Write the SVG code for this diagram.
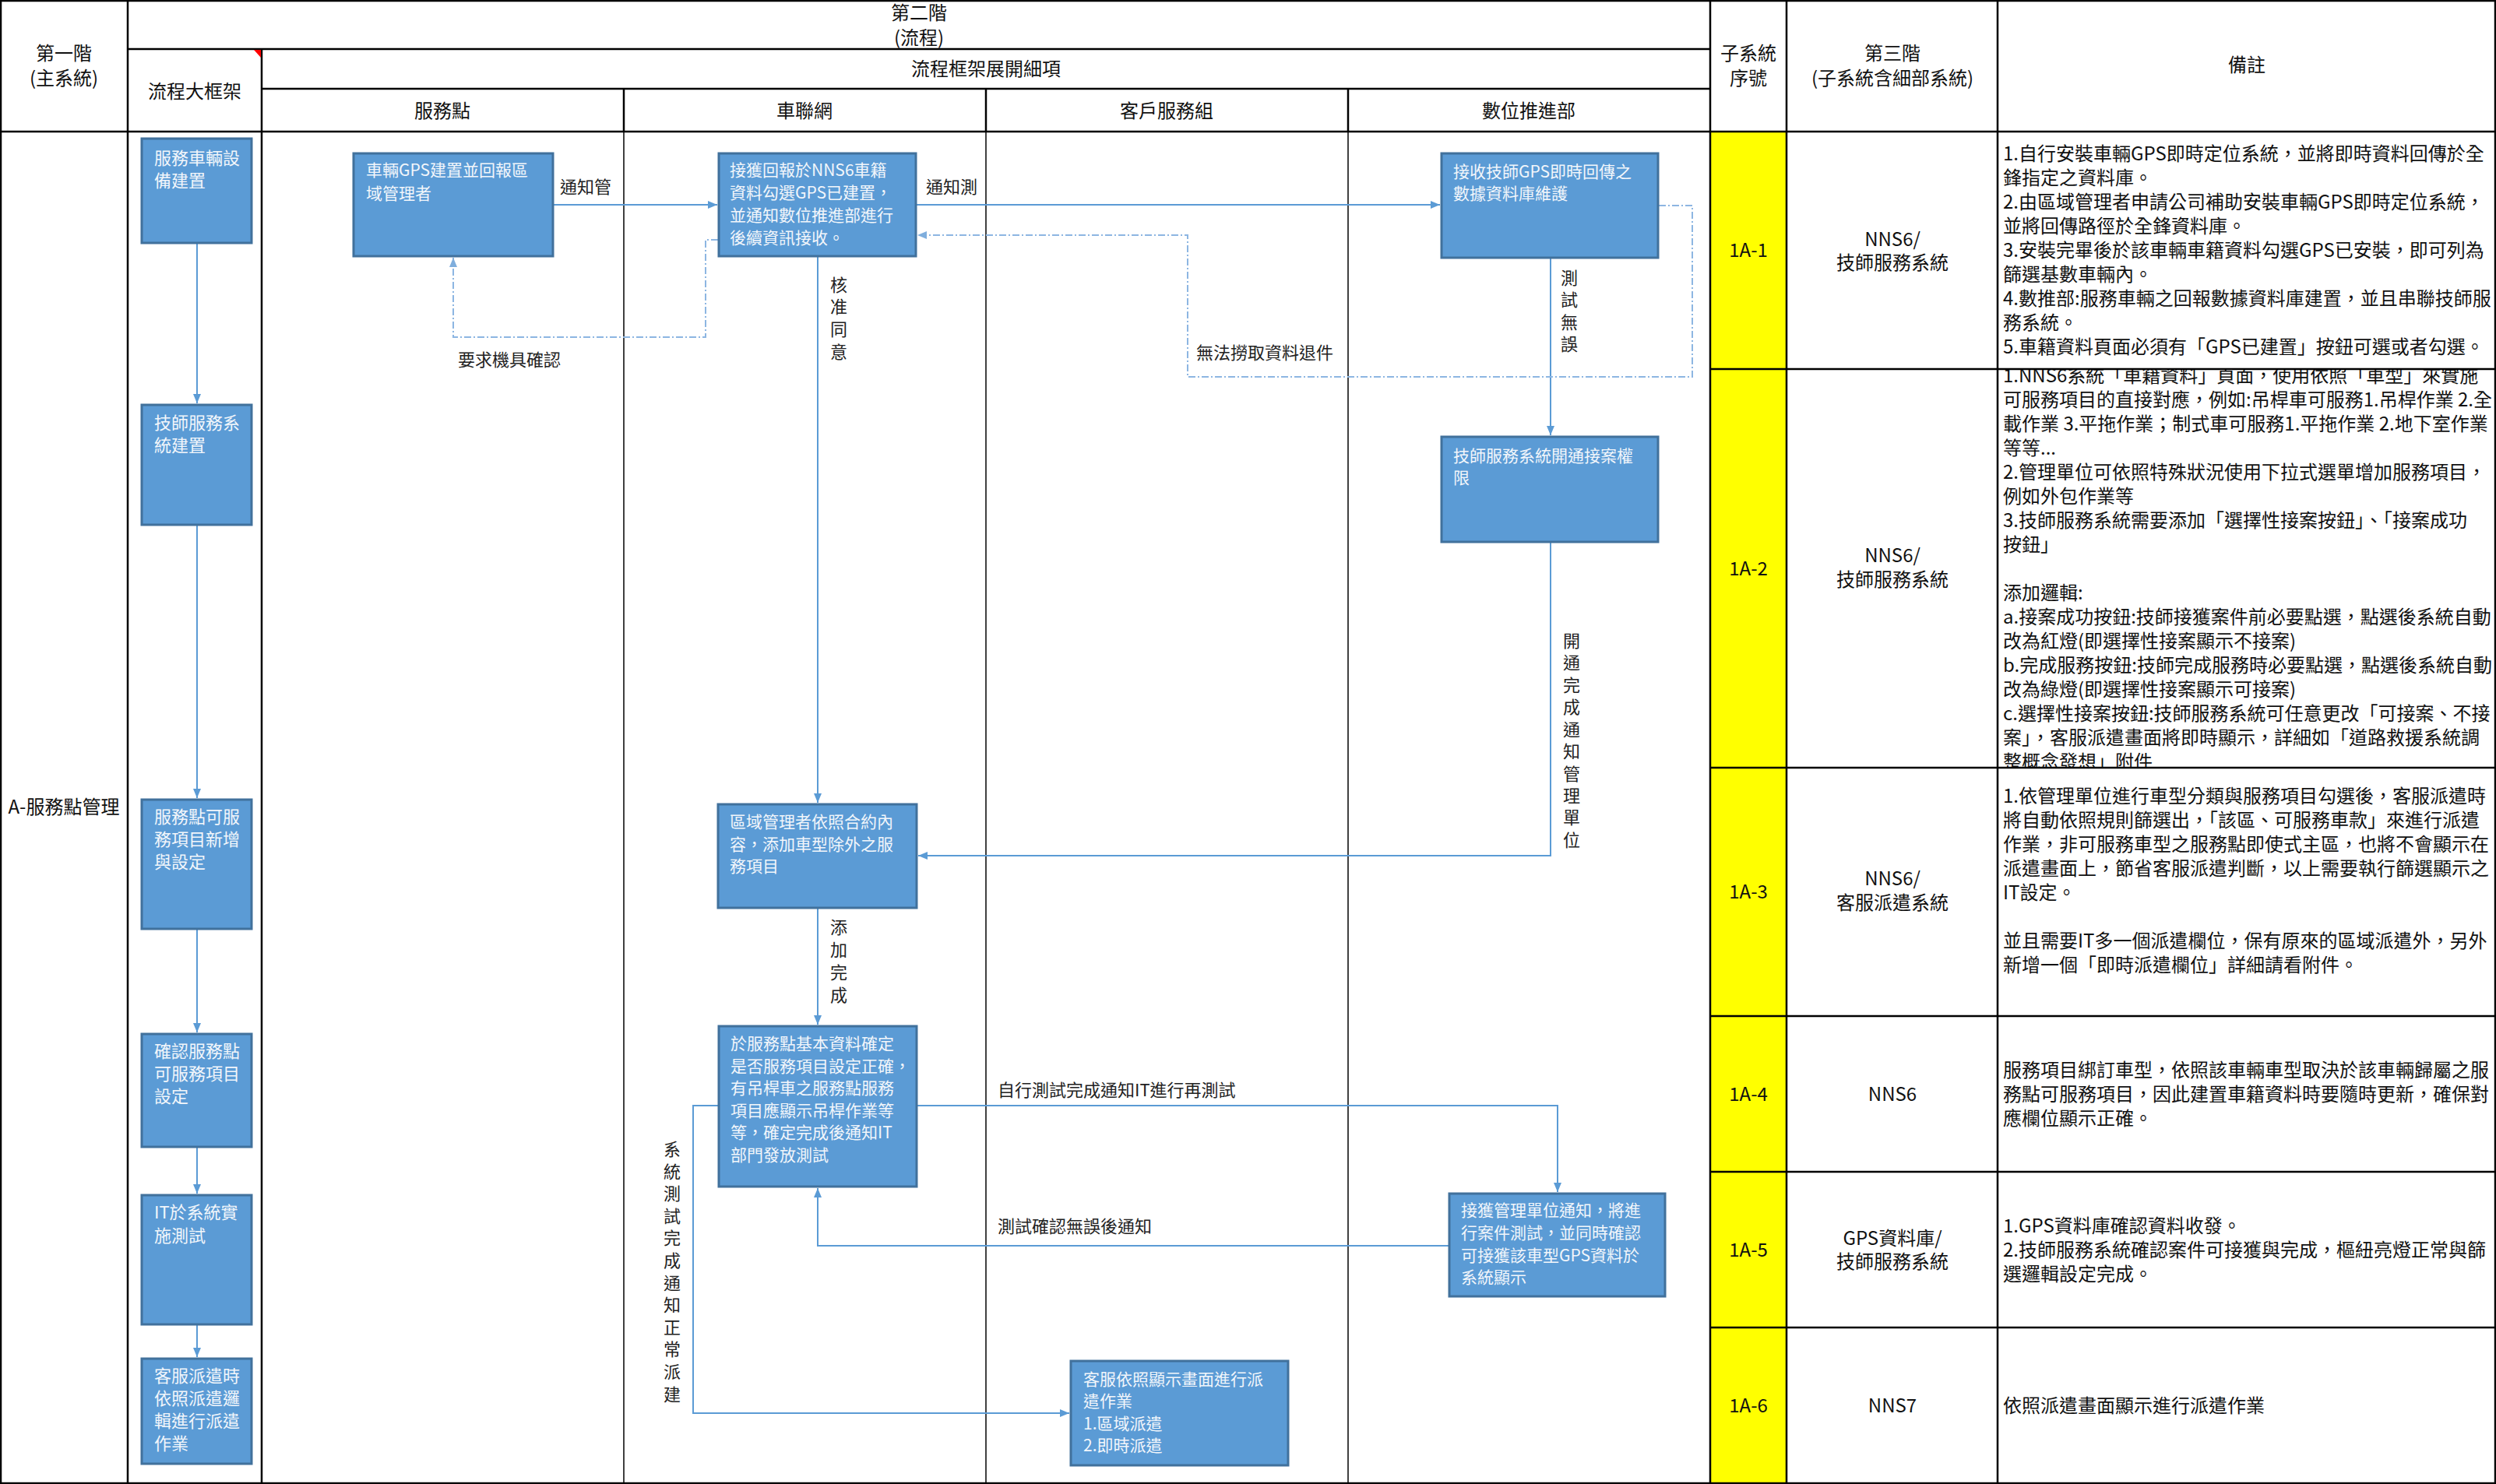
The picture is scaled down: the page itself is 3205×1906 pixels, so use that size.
<svg xmlns="http://www.w3.org/2000/svg" width="3205" height="1906" viewBox="0 0 3205 1906">
<defs>
<style>
.hd{font-family:"Noto Sans CJK TC","Noto Sans CJK SC",sans-serif;font-size:24px;fill:#111;text-anchor:middle}
.nt{font-family:"Noto Sans CJK TC","Noto Sans CJK SC",sans-serif;font-size:24px;fill:#111}
.nd rect{fill:#5B9BD5;stroke:#41719C;stroke-width:3}
.tx{font-family:"Noto Sans CJK TC","Noto Sans CJK SC",sans-serif;font-size:21px;fill:#F2F6FB}
.txl{font-family:"Noto Sans CJK TC","Noto Sans CJK SC",sans-serif;font-size:22px;fill:#F2F6FB}
.lb{font-family:"Noto Sans CJK TC","Noto Sans CJK SC",sans-serif;font-size:22px;fill:#222}
.lbv{font-family:"Noto Sans CJK TC","Noto Sans CJK SC",sans-serif;font-size:22px;fill:#222;text-anchor:middle}
.c{fill:none;stroke:#5B9BD5;stroke-width:2}
.d{fill:none;stroke:#8DB6E2;stroke-width:2;stroke-dasharray:9 3 2 3}
.g1{stroke:#000;stroke-width:2.5;fill:none}
.g2{stroke:#000;stroke-width:1.5;fill:none}
</style>
<marker id="ah" viewBox="0 0 12 10" refX="12" refY="5" markerWidth="12" markerHeight="10" markerUnits="userSpaceOnUse" orient="auto"><path d="M0,0 L12,5 L0,10 z" fill="#5B9BD5"/></marker>
<marker id="ahd" viewBox="0 0 12 10" refX="12" refY="5" markerWidth="12" markerHeight="10" markerUnits="userSpaceOnUse" orient="auto"><path d="M0,0 L12,5 L0,10 z" fill="#7FAEDD"/></marker>
<clipPath id="clip2"><rect x="2567" y="475" width="637" height="510"/></clipPath>
</defs>
<rect x="0" y="0" width="3205" height="1906" fill="#FFFFFF"/>
<!-- yellow column -->
<rect x="2196" y="169" width="98" height="1737" fill="#FFFF00"/>
<!-- grid -->
<g id="grid">
<rect x="1" y="1" width="3203" height="1904" class="g1"/>
<line x1="164" y1="63" x2="2196" y2="63" class="g1"/>
<line x1="336" y1="114" x2="2196" y2="114" class="g1"/>
<line x1="0" y1="169" x2="3205" y2="169" class="g1"/>
<line x1="164" y1="0" x2="164" y2="1906" class="g1"/>
<line x1="336" y1="63" x2="336" y2="1906" class="g1"/>
<line x1="801" y1="114" x2="801" y2="169" class="g1"/>
<line x1="1266" y1="114" x2="1266" y2="169" class="g1"/>
<line x1="1731" y1="114" x2="1731" y2="169" class="g1"/>
<line x1="801" y1="169" x2="801" y2="1906" class="g2"/>
<line x1="1266" y1="169" x2="1266" y2="1906" class="g2"/>
<line x1="1731" y1="169" x2="1731" y2="1906" class="g2"/>
<line x1="2196" y1="0" x2="2196" y2="1906" class="g1"/>
<line x1="2294" y1="0" x2="2294" y2="1906" class="g1"/>
<line x1="2565" y1="0" x2="2565" y2="1906" class="g1"/>
<line x1="2196" y1="474" x2="3205" y2="474" class="g1"/>
<line x1="2196" y1="986" x2="3205" y2="986" class="g1"/>
<line x1="2196" y1="1305" x2="3205" y2="1305" class="g1"/>
<line x1="2196" y1="1505" x2="3205" y2="1505" class="g1"/>
<line x1="2196" y1="1705" x2="3205" y2="1705" class="g1"/>
<polygon points="326,64 335,64 335,74" fill="#FF0000"/>
</g>
<!-- header texts -->
<g id="header">
<text class="hd" x="1180" y="25">第二階</text>
<text class="hd" x="1180" y="57">(流程)</text>
<text class="hd" x="82" y="77">第一階</text>
<text class="hd" x="82" y="109">(主系統)</text>
<text class="hd" x="250" y="126">流程大框架</text>
<text class="hd" x="1266" y="97">流程框架展開細項</text>
<text class="hd" x="568" y="151">服務點</text>
<text class="hd" x="1033" y="151">車聯網</text>
<text class="hd" x="1498" y="151">客戶服務組</text>
<text class="hd" x="1963" y="151">數位推進部</text>
<text class="hd" x="2245" y="77">子系統</text>
<text class="hd" x="2245" y="109">序號</text>
<text class="hd" x="2430" y="77">第三階</text>
<text class="hd" x="2430" y="109">(子系統含細部系統)</text>
<text class="hd" x="2885" y="92">備註</text>
<text class="hd" x="82" y="1045">A-服務點管理</text>
</g>
<!-- right table -->
<g id="subsys">
<text class="hd" x="2245" y="330">1A-1</text>
<text class="hd" x="2245" y="739">1A-2</text>
<text class="hd" x="2245" y="1154">1A-3</text>
<text class="hd" x="2245" y="1414">1A-4</text>
<text class="hd" x="2245" y="1614">1A-5</text>
<text class="hd" x="2245" y="1814">1A-6</text>
<text class="hd" x="2430" y="316">NNS6/</text>
<text class="hd" x="2430" y="346">技師服務系統</text>
<text class="hd" x="2430" y="722">NNS6/</text>
<text class="hd" x="2430" y="753">技師服務系統</text>
<text class="hd" x="2430" y="1137">NNS6/</text>
<text class="hd" x="2430" y="1168">客服派遣系統</text>
<text class="hd" x="2430" y="1414">NNS6</text>
<text class="hd" x="2430" y="1599">GPS資料庫/</text>
<text class="hd" x="2430" y="1629">技師服務系統</text>
<text class="hd" x="2430" y="1814">NNS7</text>
</g>
<g id="notes">
<text class="nt" x="2572" y="206">1.自行安裝車輛GPS即時定位系統，並將即時資料回傳於全</text>
<text class="nt" x="2572" y="237">鋒指定之資料庫。</text>
<text class="nt" x="2572" y="268">2.由區域管理者申請公司補助安裝車輛GPS即時定位系統，</text>
<text class="nt" x="2572" y="299">並將回傳路徑於全鋒資料庫。</text>
<text class="nt" x="2572" y="330">3.安裝完畢後於該車輛車籍資料勾選GPS已安裝，即可列為</text>
<text class="nt" x="2572" y="361">篩選基數車輛內。</text>
<text class="nt" x="2572" y="392">4.數推部:服務車輛之回報數據資料庫建置，並且串聯技師服</text>
<text class="nt" x="2572" y="423">務系統。</text>
<text class="nt" x="2572" y="454">5.車籍資料頁面必須有「GPS已建置」按鈕可選或者勾選。</text>
<g clip-path="url(#clip2)">
<text class="nt" x="2572" y="491">1.NNS6系統「車籍資料」頁面，使用依照「車型」來實施</text>
<text class="nt" x="2572" y="522">可服務項目的直接對應，例如:吊桿車可服務1.吊桿作業 2.全</text>
<text class="nt" x="2572" y="553">載作業 3.平拖作業；制式車可服務1.平拖作業 2.地下室作業</text>
<text class="nt" x="2572" y="584">等等...</text>
<text class="nt" x="2572" y="615">2.管理單位可依照特殊狀況使用下拉式選單增加服務項目，</text>
<text class="nt" x="2572" y="646">例如外包作業等</text>
<text class="nt" x="2572" y="677">3.技師服務系統需要添加「選擇性接案按鈕」、「接案成功</text>
<text class="nt" x="2572" y="708">按鈕」</text>
<text class="nt" x="2572" y="770">添加邏輯:</text>
<text class="nt" x="2572" y="801">a.接案成功按鈕:技師接獲案件前必要點選，點選後系統自動</text>
<text class="nt" x="2572" y="832">改為紅燈(即選擇性接案顯示不接案)</text>
<text class="nt" x="2572" y="863">b.完成服務按鈕:技師完成服務時必要點選，點選後系統自動</text>
<text class="nt" x="2572" y="894">改為綠燈(即選擇性接案顯示可接案)</text>
<text class="nt" x="2572" y="925">c.選擇性接案按鈕:技師服務系統可任意更改「可接案、不接</text>
<text class="nt" x="2572" y="956">案」，客服派遣畫面將即時顯示，詳細如「道路救援系統調</text>
<text class="nt" x="2572" y="987">整概念發想」附件</text>
</g>
<text class="nt" x="2572" y="1031">1.依管理單位進行車型分類與服務項目勾選後，客服派遣時</text>
<text class="nt" x="2572" y="1062">將自動依照規則篩選出，「該區、可服務車款」來進行派遣</text>
<text class="nt" x="2572" y="1093">作業，非可服務車型之服務點即使式主區，也將不會顯示在</text>
<text class="nt" x="2572" y="1124">派遣畫面上，節省客服派遣判斷，以上需要執行篩選顯示之</text>
<text class="nt" x="2572" y="1155">IT設定。</text>
<text class="nt" x="2572" y="1217">並且需要IT多一個派遣欄位，保有原來的區域派遣外，另外</text>
<text class="nt" x="2572" y="1248">新增一個「即時派遣欄位」詳細請看附件。</text>
<text class="nt" x="2572" y="1383">服務項目綁訂車型，依照該車輛車型取決於該車輛歸屬之服</text>
<text class="nt" x="2572" y="1414">務點可服務項目，因此建置車籍資料時要隨時更新，確保對</text>
<text class="nt" x="2572" y="1445">應欄位顯示正確。</text>
<text class="nt" x="2572" y="1583">1.GPS資料庫確認資料收發。</text>
<text class="nt" x="2572" y="1614">2.技師服務系統確認案件可接獲與完成，樞紐亮燈正常與篩</text>
<text class="nt" x="2572" y="1645">選邏輯設定完成。</text>
<text class="nt" x="2572" y="1814">依照派遣畫面顯示進行派遣作業</text>
</g>
<!-- connectors -->
<g id="connectors">
<path class="c" d="M253,313 V518" marker-end="url(#ah)"/>
<path class="c" d="M253,675 V1025" marker-end="url(#ah)"/>
<path class="c" d="M253,1194 V1326" marker-end="url(#ah)"/>
<path class="c" d="M253,1474 V1533" marker-end="url(#ah)"/>
<path class="c" d="M253,1702 V1743" marker-end="url(#ah)"/>
<path class="c" d="M711,263 H921" marker-end="url(#ah)"/>
<path class="c" d="M1177,263 H1849" marker-end="url(#ah)"/>
<path class="c" d="M1050,330 V1031" marker-end="url(#ah)"/>
<path class="c" d="M1991,332 V559" marker-end="url(#ah)"/>
<path class="c" d="M1991,697 V1099 H1179" marker-end="url(#ah)"/>
<path class="c" d="M1050,1167 V1316" marker-end="url(#ah)"/>
<path class="c" d="M1178,1420 H2000 V1531" marker-end="url(#ah)"/>
<path class="c" d="M1860,1600 H1050 V1526" marker-end="url(#ah)"/>
<path class="c" d="M922,1420 H890 V1815 H1373" marker-end="url(#ah)"/>
<path class="d" d="M922,308 H906 V433 H582 V331" marker-end="url(#ahd)"/>
<path class="d" d="M2130,264 H2173 V484 H1525 V302 H1178" marker-end="url(#ahd)"/>
<text class="lb" x="719" y="248">通知管</text>
<text class="lb" x="1189" y="248">通知測</text>
<text class="lb" x="654" y="470" text-anchor="middle">要求機具確認</text>
<text class="lb" x="1536" y="461">無法撈取資料退件</text>
<text class="lb" x="1281" y="1408">自行測試完成通知IT進行再測試</text>
<text class="lb" x="1281" y="1583">測試確認無誤後通知</text>
<text class="lbv"><tspan x="1077" y="374">核</tspan><tspan x="1077" y="402">准</tspan><tspan x="1077" y="431">同</tspan><tspan x="1077" y="460">意</tspan></text>
<text class="lbv"><tspan x="2015" y="365">測</tspan><tspan x="2015" y="393">試</tspan><tspan x="2015" y="422">無</tspan><tspan x="2015" y="450">誤</tspan></text>
<text class="lbv"><tspan x="2018" y="831">開</tspan><tspan x="2018" y="859">通</tspan><tspan x="2018" y="888">完</tspan><tspan x="2018" y="916">成</tspan><tspan x="2018" y="945">通</tspan><tspan x="2018" y="973">知</tspan><tspan x="2018" y="1002">管</tspan><tspan x="2018" y="1030">理</tspan><tspan x="2018" y="1058">單</tspan><tspan x="2018" y="1087">位</tspan></text>
<text class="lbv"><tspan x="1077" y="1199">添</tspan><tspan x="1077" y="1228">加</tspan><tspan x="1077" y="1257">完</tspan><tspan x="1077" y="1286">成</tspan></text>
<text class="lbv"><tspan x="863" y="1484">系</tspan><tspan x="863" y="1513">統</tspan><tspan x="863" y="1541">測</tspan><tspan x="863" y="1570">試</tspan><tspan x="863" y="1598">完</tspan><tspan x="863" y="1627">成</tspan><tspan x="863" y="1656">通</tspan><tspan x="863" y="1684">知</tspan><tspan x="863" y="1713">正</tspan><tspan x="863" y="1741">常</tspan><tspan x="863" y="1770">派</tspan><tspan x="863" y="1799">建</tspan></text>
</g>
<!-- left column nodes -->
<g id="n1" class="nd"><rect x="182" y="178" width="141" height="134"/><text class="txl"><tspan x="198" y="211">服務車輛設</tspan><tspan x="198" y="240">備建置</tspan></text></g>
<g id="n2" class="nd"><rect x="182" y="520" width="141" height="154"/><text class="txl"><tspan x="198" y="551">技師服務系</tspan><tspan x="198" y="580">統建置</tspan></text></g>
<g id="n3" class="nd"><rect x="182" y="1027" width="141" height="166"/><text class="txl"><tspan x="198" y="1057">服務點可服</tspan><tspan x="198" y="1086">務項目新增</tspan><tspan x="198" y="1115">與設定</tspan></text></g>
<g id="n4" class="nd"><rect x="182" y="1328" width="141" height="145"/><text class="txl"><tspan x="198" y="1358">確認服務點</tspan><tspan x="198" y="1387">可服務項目</tspan><tspan x="198" y="1416">設定</tspan></text></g>
<g id="n5" class="nd"><rect x="182" y="1535" width="141" height="166"/><text class="txl"><tspan x="198" y="1565">IT於系統實</tspan><tspan x="198" y="1595">施測試</tspan></text></g>
<g id="n6" class="nd"><rect x="182" y="1745" width="141" height="135"/><text class="txl"><tspan x="198" y="1775">客服派遣時</tspan><tspan x="198" y="1804">依照派遣邏</tspan><tspan x="198" y="1833">輯進行派遣</tspan><tspan x="198" y="1862">作業</tspan></text></g>
<!-- lane nodes -->
<g id="nA" class="nd"><rect x="454" y="197" width="256" height="132"/><text class="tx"><tspan x="470" y="226">車輛GPS建置並回報區</tspan><tspan x="470" y="256">域管理者</tspan></text></g>
<g id="nB" class="nd"><rect x="923" y="197" width="253" height="132"/><text class="tx"><tspan x="937" y="226">接獲回報於NNS6車籍</tspan><tspan x="937" y="255">資料勾選GPS已建置，</tspan><tspan x="937" y="284">並通知數位推進部進行</tspan><tspan x="937" y="313">後續資訊接收。</tspan></text></g>
<g id="nC" class="nd"><rect x="1851" y="197" width="278" height="134"/><text class="tx"><tspan x="1866" y="228">接收技師GPS即時回傳之</tspan><tspan x="1866" y="256">數據資料庫維護</tspan></text></g>
<g id="nD" class="nd"><rect x="1851" y="561" width="278" height="135"/><text class="tx"><tspan x="1866" y="593">技師服務系統開通接案權</tspan><tspan x="1866" y="621">限</tspan></text></g>
<g id="nE" class="nd"><rect x="922" y="1033" width="255" height="133"/><text class="tx"><tspan x="937" y="1063">區域管理者依照合約內</tspan><tspan x="937" y="1092">容，添加車型除外之服</tspan><tspan x="937" y="1120">務項目</tspan></text></g>
<g id="nF" class="nd"><rect x="923" y="1318" width="254" height="206"/><text class="tx"><tspan x="938" y="1348">於服務點基本資料確定</tspan><tspan x="938" y="1377">是否服務項目設定正確，</tspan><tspan x="938" y="1405">有吊桿車之服務點服務</tspan><tspan x="938" y="1434">項目應顯示吊桿作業等</tspan><tspan x="938" y="1462">等，確定完成後通知IT</tspan><tspan x="938" y="1491">部門發放測試</tspan></text></g>
<g id="nG" class="nd"><rect x="1861" y="1533" width="277" height="132"/><text class="tx"><tspan x="1876" y="1562">接獲管理單位通知，將進</tspan><tspan x="1876" y="1591">行案件測試，並同時確認</tspan><tspan x="1876" y="1620">可接獲該車型GPS資料於</tspan><tspan x="1876" y="1648">系統顯示</tspan></text></g>
<g id="nH" class="nd"><rect x="1375" y="1748" width="279" height="134"/><text class="tx"><tspan x="1391" y="1779">客服依照顯示畫面進行派</tspan><tspan x="1391" y="1807">遣作業</tspan><tspan x="1391" y="1836">1.區域派遣</tspan><tspan x="1391" y="1864">2.即時派遣</tspan></text></g>
</svg>
